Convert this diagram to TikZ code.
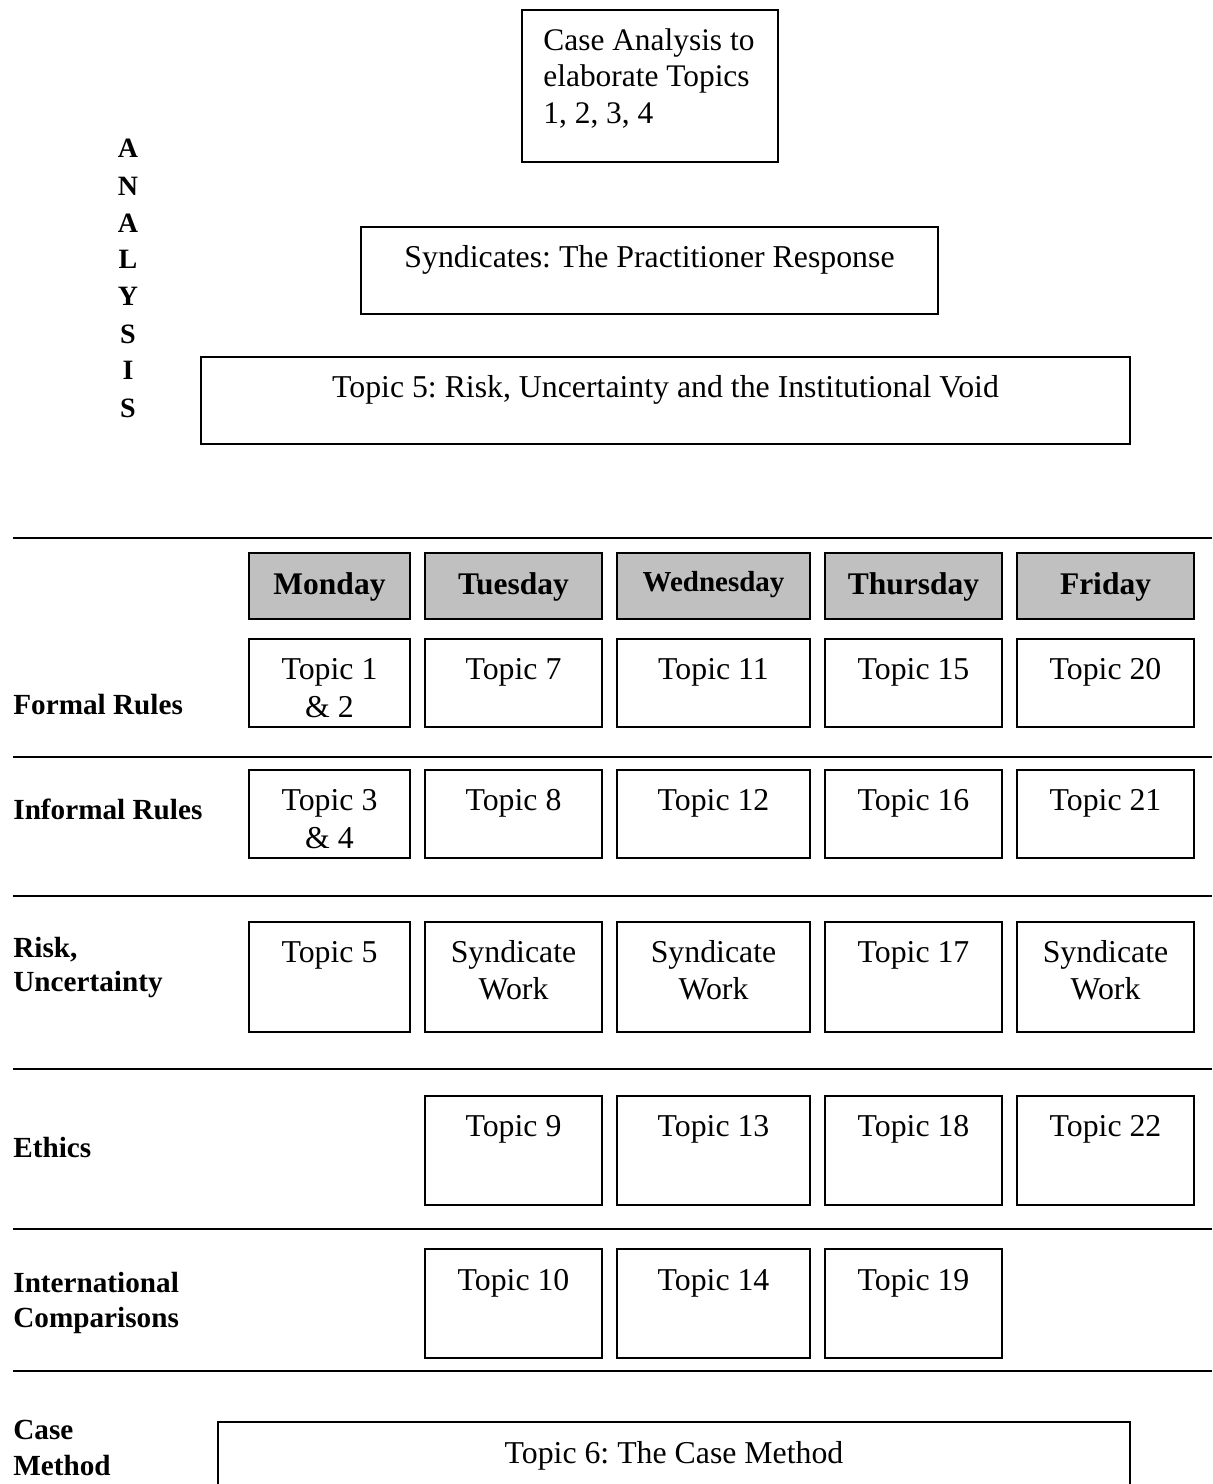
\documentclass[tikz,border=0pt]{standalone}
\usepackage{fontspec}
\setmainfont{Liberation Serif}
\usetikzlibrary{fit}
\definecolor{hdrgray}{HTML}{C0C0C0}
\frenchspacing
\begin{document}
\begin{tikzpicture}[x=0.5pt,y=-0.5pt,
  box/.style={draw, line width=0.8pt, inner sep=0pt},
  hdr/.style={box, fill=hdrgray},
  txt/.style={anchor=base, inner sep=0pt, font=\fontsize{15.9}{18.5}\selectfont},
  ltxt/.style={anchor=base west, inner sep=0pt, font=\fontsize{15.7}{18.5}\selectfont},
  lbl/.style={anchor=base west, inner sep=0pt, font=\fontsize{14.6}{17.5}\selectfont\bfseries},
  daytxt/.style={anchor=base, inner sep=0pt, font=\fontsize{15.75}{18}\selectfont\bfseries},
  ana/.style={anchor=base, inner sep=0pt, font=\fontsize{14}{18}\selectfont\bfseries},
  rulestyle/.style={line width=1.1pt}
]
\useasboundingbox (0,0) rectangle (1212,1484);
\clip (0,0) rectangle (1212,1484);
\fill[white] (0,0) rectangle (1212,1484);

% ---------- top part ----------
\node[box, fit={(522,10) (778,162)}] (ca) {};
\node[ltxt] (ca1) at (543,50) {Case Analysis to};
\node[ltxt] (ca2) at (543,86) {elaborate Topics};
\node[ltxt] (ca3) at (543,123) {1, 2, 3, 4};

\node[ana] (an1) at (128,157) {A};
\node[ana] (an2) at (128,195) {N};
\node[ana] (an3) at (128,232) {A};
\node[ana] (an4) at (128,268) {L};
\node[ana] (an5) at (128,305) {Y};
\node[ana] (an6) at (128,343) {S};
\node[ana] (an7) at (128,379) {I};
\node[ana] (an8) at (128,417) {S};

\node[box, fit={(361,227) (938,314)}] (synd) {};
\node[txt] (syndT) at (649.5,267) {Syndicates: The Practitioner Response};

\node[box, fit={(201,357) (1130,444)}] (t5big) {};
\node[txt] (t5bigT) at (665.5,397) {Topic 5: Risk, Uncertainty and the Institutional Void};

% ---------- rules ----------
\foreach \yy [count=\i] in {538,757,896,1069,1229,1371}{
  \coordinate (ra\i) at (13,\yy);
  \coordinate (rb\i) at (1212,\yy);
  \draw[rulestyle] (ra\i) -- (rb\i);
}

% ---------- day headers ----------
\node[hdr, fit={(249,553) (410,619)}] (mon) {};
\node[hdr, fit={(425,553) (602,619)}] (tue) {};
\node[hdr, fit={(617,553) (810,619)}] (wed) {};
\node[hdr, fit={(825,553) (1002,619)}] (thu) {};
\node[hdr, fit={(1017,553) (1194,619)}] (fri) {};
\node[daytxt] (monT) at (329.5,594) {Monday};
\node[daytxt] (tueT) at (513.5,594) {Tuesday};
\node[daytxt, font=\fontsize{14.5}{17}\selectfont\bfseries] (wedT) at (713.5,591) {Wednesday};
\node[daytxt] (thuT) at (913.5,594) {Thursday};
\node[daytxt] (friT) at (1105.5,594) {Friday};

% ---------- row 1: Formal Rules ----------
\node[lbl] (l1) at (13,714) {Formal Rules};
\node[box, fit={(249,639) (410,727)}] (c11) {};
\node[box, fit={(425,639) (602,727)}] (c12) {};
\node[box, fit={(617,639) (810,727)}] (c13) {};
\node[box, fit={(825,639) (1002,727)}] (c14) {};
\node[box, fit={(1017,639) (1194,727)}] (c15) {};
\node[txt] (c11a) at (329.5,679) {Topic 1};
\node[txt] (c11b) at (329.5,717) {\& 2};
\node[txt] (c12a) at (513.5,679) {Topic 7};
\node[txt] (c13a) at (713.5,679) {Topic 11};
\node[txt] (c14a) at (913.5,679) {Topic 15};
\node[txt] (c15a) at (1105.5,679) {Topic 20};

% ---------- row 2: Informal Rules ----------
\node[lbl] (l2) at (13,819) {Informal Rules};
\node[box, fit={(249,770) (410,858)}] (c21) {};
\node[box, fit={(425,770) (602,858)}] (c22) {};
\node[box, fit={(617,770) (810,858)}] (c23) {};
\node[box, fit={(825,770) (1002,858)}] (c24) {};
\node[box, fit={(1017,770) (1194,858)}] (c25) {};
\node[txt] (c21a) at (329.5,810) {Topic 3};
\node[txt] (c21b) at (329.5,848) {\& 4};
\node[txt] (c22a) at (513.5,810) {Topic 8};
\node[txt] (c23a) at (713.5,810) {Topic 12};
\node[txt] (c24a) at (913.5,810) {Topic 16};
\node[txt] (c25a) at (1105.5,810) {Topic 21};

% ---------- row 3: Risk, Uncertainty ----------
\node[lbl] (l3a) at (13,957) {Risk,};
\node[lbl] (l3b) at (13,991) {Uncertainty};
\node[box, fit={(249,922) (410,1032)}] (c31) {};
\node[box, fit={(425,922) (602,1032)}] (c32) {};
\node[box, fit={(617,922) (810,1032)}] (c33) {};
\node[box, fit={(825,922) (1002,1032)}] (c34) {};
\node[box, fit={(1017,922) (1194,1032)}] (c35) {};
\node[txt] (c31a) at (329.5,962) {Topic 5};
\node[txt] (c32a) at (513.5,962) {Syndicate};
\node[txt] (c32b) at (513.5,999) {Work};
\node[txt] (c33a) at (713.5,962) {Syndicate};
\node[txt] (c33b) at (713.5,999) {Work};
\node[txt] (c34a) at (913.5,962) {Topic 17};
\node[txt] (c35a) at (1105.5,962) {Syndicate};
\node[txt] (c35b) at (1105.5,999) {Work};

% ---------- row 4: Ethics ----------
\node[lbl] (l4) at (13,1157) {Ethics};
\node[box, fit={(425,1096) (602,1205)}] (c42) {};
\node[box, fit={(617,1096) (810,1205)}] (c43) {};
\node[box, fit={(825,1096) (1002,1205)}] (c44) {};
\node[box, fit={(1017,1096) (1194,1205)}] (c45) {};
\node[txt] (c42a) at (513.5,1136) {Topic 9};
\node[txt] (c43a) at (713.5,1136) {Topic 13};
\node[txt] (c44a) at (913.5,1136) {Topic 18};
\node[txt] (c45a) at (1105.5,1136) {Topic 22};

% ---------- row 5: International Comparisons ----------
\node[lbl] (l5a) at (13,1292) {International};
\node[lbl] (l5b) at (13,1327) {Comparisons};
\node[box, fit={(425,1249) (602,1358)}] (c52) {};
\node[box, fit={(617,1249) (810,1358)}] (c53) {};
\node[box, fit={(825,1249) (1002,1358)}] (c54) {};
\node[txt] (c52a) at (513.5,1290) {Topic 10};
\node[txt] (c53a) at (713.5,1290) {Topic 14};
\node[txt] (c54a) at (913.5,1290) {Topic 19};

% ---------- row 6: Case Method ----------
\node[lbl] (l6a) at (13,1439) {Case};
\node[lbl] (l6b) at (13,1475) {Method};
\node[box, fit={(218,1422) (1130,1540)}] (cm) {};
\node[txt] (cmT) at (674,1463) {Topic 6: The Case Method};
\end{tikzpicture}
\end{document}
